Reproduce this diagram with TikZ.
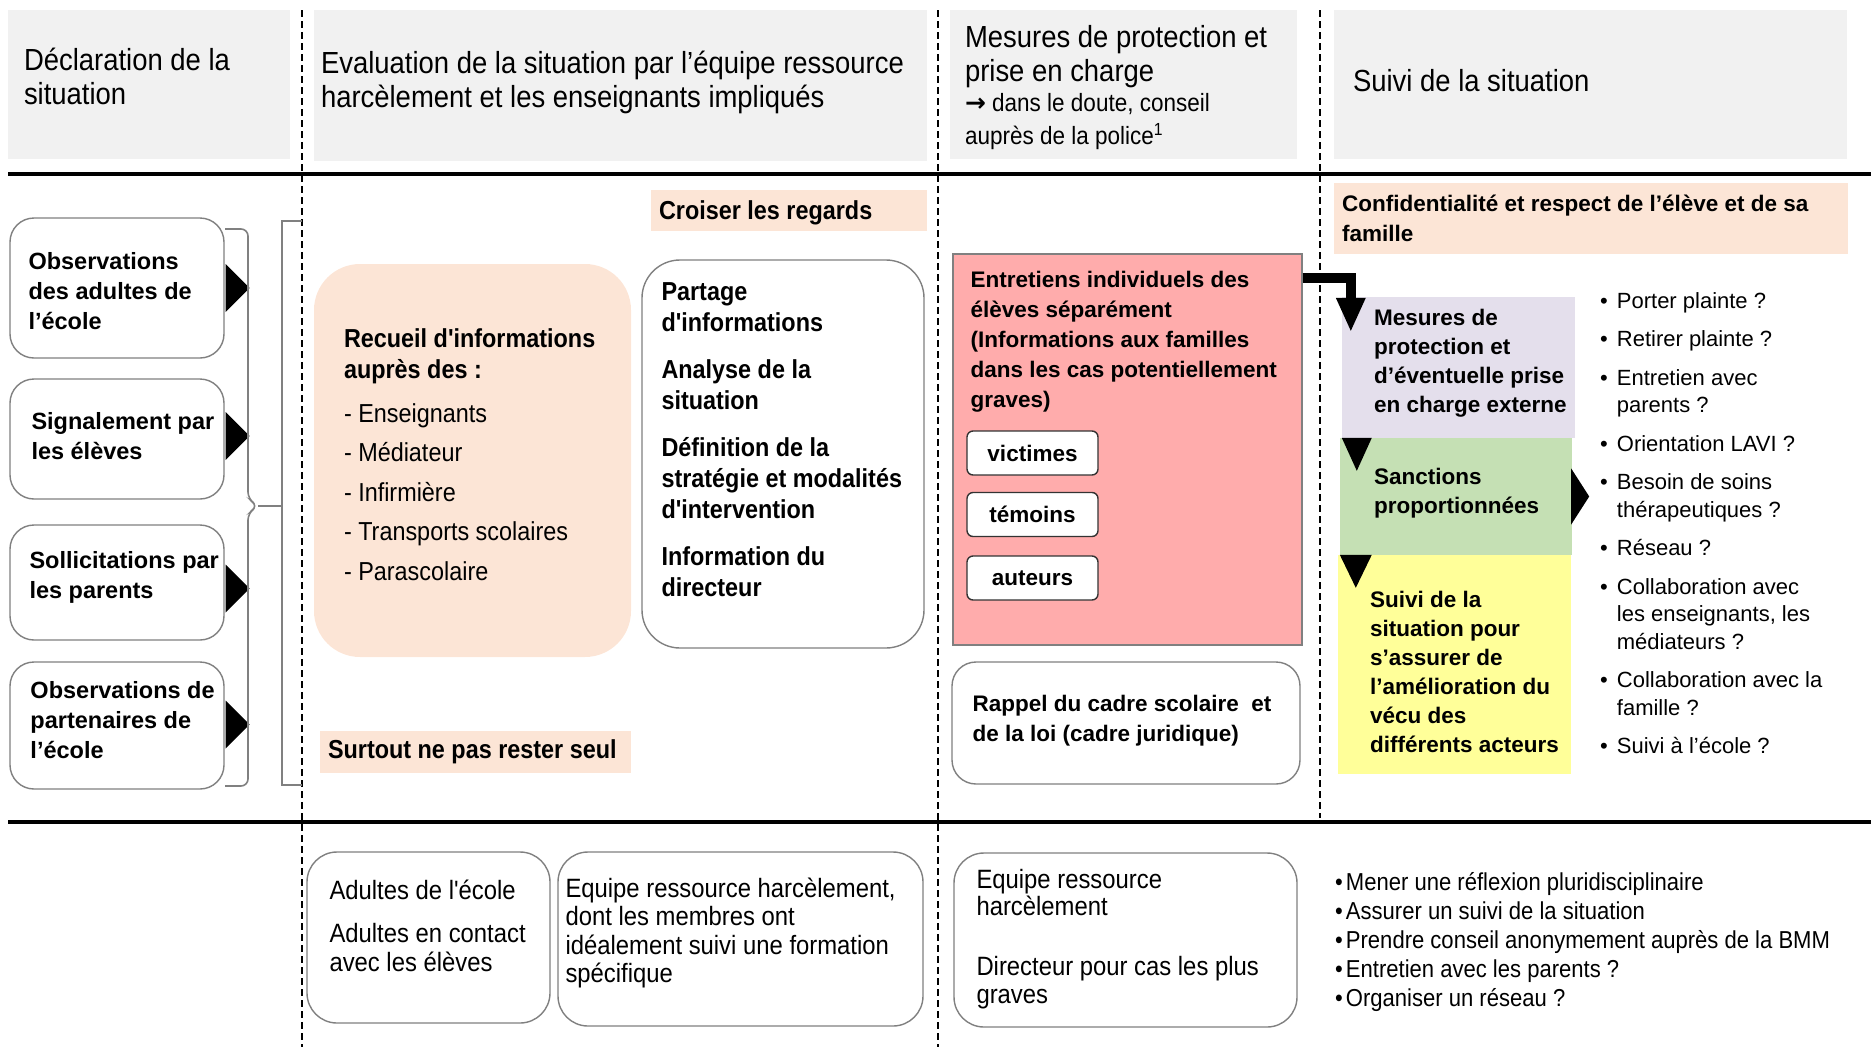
\documentclass[tikz,border=0pt]{standalone}
\usepackage{fontspec}
\setmainfont{Liberation Sans}
\newfontfamily\narrowfont{Liberation Sans}[FakeStretch=0.9]
\newfontfamily\arrowfont{DejaVu Sans}
\usetikzlibrary{arrows.meta}

\definecolor{headgray}{RGB}{241,241,241}
\definecolor{peach}{RGB}{252,229,214}
\definecolor{rose}{RGB}{255,172,172}
\definecolor{lavender}{RGB}{228,223,236}
\definecolor{sagegreen}{RGB}{197,224,180}
\definecolor{paleyellow}{RGB}{255,255,153}
\definecolor{edgegray}{RGB}{128,128,128}

\newcommand\hdfont{\narrowfont\fontsize{30.5}{34.5}\selectfont}
\newcommand\hdsmall{\narrowfont\fontsize{25}{32}\selectfont}
\newcommand\nbfont{\narrowfont\bfseries\fontsize{26}{31}\selectfont}
\newcommand\nrfont{\narrowfont\fontsize{26}{31}\selectfont}
\newcommand\wbfont{\bfseries\fontsize{22.5}{30}\selectfont}
\newcommand\wbtight{\bfseries\fontsize{22.5}{29}\selectfont}
\newcommand\lbfont{\bfseries\fontsize{23.5}{30}\selectfont}
\newcommand\qfont{\fontsize{22}{27.5}\selectfont}
\newcommand\btfont{\narrowfont\fontsize{26.5}{28.5}\selectfont}
\newcommand\btlist{\narrowfont\fontsize{24.5}{29}\selectfont}

\tikzset{
  hdband/.style={fill=headgray, inner sep=0},
  tintbox/.style={fill=#1, inner sep=0},
  cardbox/.style={draw=edgegray, line width=1.4pt, fill=white, inner sep=0, rounded corners=#1},
  cardbox/.default=24pt,
  chipbox/.style={draw=black!80, line width=1.4pt, fill=white, rounded corners=6pt, inner sep=0,
    minimum width=131pt, minimum height=44pt, font=\wbfont},
  txtnode/.style={inner sep=0, anchor=west, align=left},
  coldash/.style={dash pattern=on 7pt off 4pt, line width=1.5pt},
  hrule/.style={line width=4.5pt},
  bracelines/.style={draw=edgegray, line width=1.6pt}
}

\begin{document}
\begin{tikzpicture}[x=1pt, y=-1pt]
  \useasboundingbox (0,0) rectangle (1871,1047);

  \node[hdband, minimum width=282pt, minimum height=149pt] (hA) at (149,84.5) {};
  \node[hdband, minimum width=613pt, minimum height=151pt] (hB) at (620.5,85.5) {};
  \node[hdband, minimum width=347pt, minimum height=149pt] (hC) at (1123.5,84.5) {};
  \node[hdband, minimum width=513pt, minimum height=149pt] (hD) at (1590.5,84.5) {};

  \node[txtnode, font=\hdfont] (tA) at ([shift={(16,-8)}]hA.west) {Déclaration de la\\situation};
  \node[txtnode, font=\hdfont] (tB) at ([shift={(7,-3)}]hB.west)
    {Evaluation de la situation par l’équipe ressource\\harcèlement et les enseignants impliqués};
  \node[txtnode, font=\hdfont] (tC) at ([shift={(15,3)}]hC.west)
    {Mesures de protection et\\[-1pt]prise en charge\\[-4pt]{\hdsmall{\arrowfont\bfseries →} dans le doute, conseil}\\[-2pt]{\hdsmall auprès de la police\textsuperscript{1}}};
  \node[txtnode, font=\hdfont] (tD) at ([shift={(19,-4)}]hD.west) {Suivi de la situation};

  \draw[hrule] (8,174) -- (1871,174);
  \draw[hrule] (8,822) -- (1871,822);
  \draw[coldash] (302,10) -- (302,1047);
  \draw[coldash] (938,10) -- (938,1047);
  \draw[coldash] (1320,10) -- (1320,818);

  \node[cardbox, minimum width=214pt, minimum height=140pt] (obsAdult) at (117,288) {};
  \node[cardbox, minimum width=214pt, minimum height=120pt] (signal) at (117,439) {};
  \node[cardbox, minimum width=214pt, minimum height=115pt] (sollic) at (117,582.5) {};
  \node[cardbox, minimum width=214pt, minimum height=127pt] (obsPart) at (117,725.5) {};
  \node[txtnode, font=\lbfont] (tObsAdult) at ([shift={(19,3)}]obsAdult.west) {Observations\\des adultes de\\l'école};
  \node[txtnode, font=\lbfont] (tSignal) at ([shift={(22,-3)}]signal.west) {Signalement par\\les élèves};
  \node[txtnode, font=\lbfont] (tSollic) at ([shift={(20,-5)}]sollic.west) {Sollicitations par\\les parents};
  \node[txtnode, font=\lbfont] (tObsPart) at ([shift={(21,-5)}]obsPart.west) {Observations de\\partenaires de\\l'école};

  \fill (obsAdult.east) ++(1,-24) -- ++(24,24) -- ++(-24,24) -- cycle;
  \fill (signal.east) ++(1,-27) -- ++(24,24) -- ++(-24,24) -- cycle;
  \fill (sollic.east) ++(1,-18) -- ++(24,24) -- ++(-24,24) -- cycle;
  \fill (obsPart.east) ++(1,-25) -- ++(24,24) -- ++(-24,24) -- cycle;
  \draw[bracelines, rounded corners=7pt] (225,229) -- (248,229) -- (248,499) -- (258,506) -- (248,513) -- (248,786) -- (225,786);
  \draw[bracelines] (258,506) -- (282,506);
  \draw[bracelines] (302,221) -- (282,221) -- (282,785) -- (302,785);

  \node[tintbox=peach, minimum width=276pt, minimum height=41pt] (croiser) at (789,210.5) {};
  \node[txtnode, font=\nbfont] (tCroiser) at ([shift={(8,2)}]croiser.west) {Croiser les regards};
  \node[tintbox=peach, rounded corners=46pt, minimum width=317pt, minimum height=393pt] (recueil) at (472.5,460.5) {};
  \node[txtnode, font=\nrfont] (tRecueil) at ([shift={(30,-6)}]recueil.west)
    {{\bfseries Recueil d'informations}\\{\bfseries auprès des :}\\[13pt]- Enseignants\\[8.5pt]- Médiateur\\[8.5pt]- Infirmière\\[8.5pt]- Transports scolaires\\[8.5pt]- Parascolaire};
  \node[cardbox=38pt, minimum width=282pt, minimum height=388pt] (partage) at (783,454) {};
  \node[txtnode, font=\nbfont] (tPartage) at ([shift={(20,-14)}]partage.west)
    {Partage\\d'informations\\[16pt]Analyse de la\\situation\\[16pt]Définition de la\\stratégie et modalités\\d'intervention\\[16pt]Information du\\directeur};
  \node[tintbox=peach, minimum width=311pt, minimum height=42pt] (surtout) at (475.5,752) {};
  \node[txtnode, font=\nbfont] (tSurtout) at ([xshift=8pt]surtout.west) {Surtout ne pas rester seul};

  \node[tintbox=rose, draw=edgegray, line width=1.2pt, minimum width=349pt, minimum height=391pt] (entretiens) at (1127.5,449.5) {};
  \node[txtnode, anchor=north west, font=\wbfont] (tEntretiens) at ([shift={(18,18)}]entretiens.north west)
    {Entretiens individuels des\\élèves séparément\\(Informations aux familles\\dans les cas potentiellement\\graves)};
  \node[chipbox] (victimes) at (1032.5,453) {victimes};
  \node[chipbox] (temoins) at (1032.5,514.5) {témoins};
  \node[chipbox] (auteurs) at (1032.5,578) {auteurs};
  \node[cardbox, minimum width=348pt, minimum height=122pt] (rappel) at (1126,723) {};
  \node[txtnode, font=\wbfont] (tRappel) at ([shift={(21,-2)}]rappel.west) {Rappel du cadre scolaire\ \ et\\de la loi (cadre juridique)};

  \node[tintbox=peach, minimum width=514pt, minimum height=71pt] (confid) at (1591,218.5) {};
  \node[txtnode, font=\wbfont] (tConfid) at ([xshift=8pt]confid.west) {Confidentialité et respect de l’élève et de sa\\famille};
  \node[tintbox=lavender, minimum width=233pt, minimum height=141pt] (mesures) at (1458.5,367.5) {};
  \node[tintbox=sagegreen, minimum width=232pt, minimum height=117pt] (sanctions) at (1456,496.5) {};
  \node[tintbox=paleyellow, minimum width=233pt, minimum height=219pt] (suivi) at (1454.5,664.5) {};
  \node[txtnode, font=\wbtight] (tMesures) at ([shift={(32,-4)}]mesures.west) {Mesures de\\protection et\\d’éventuelle prise\\en charge externe};
  \node[txtnode, font=\wbtight] (tSanctions) at ([shift={(34,-3)}]sanctions.west) {Sanctions\\proportionnées};
  \node[txtnode, font=\wbtight] (tSuivi) at ([shift={(32,7)}]suivi.west)
    {Suivi de la\\situation pour\\s’assurer de\\l’amélioration du\\vécu des\\différents acteurs};
  \draw[line width=10pt, -{Triangle[width=30pt, length=33pt, line width=0pt]}]
    ([yshift=-25pt]entretiens.north east) -| ([shift={(9,34)}]mesures.north west);
  \fill ([xshift=2pt]sanctions.north west) -- ++(30,0) -- ++(-15,33) -- cycle;
  \fill ([xshift=2pt]suivi.north west) -- ++(32,0) -- ++(-16,33) -- cycle;
  \fill ([xshift=-1pt]sanctions.east) ++(0,-28) -- ++(18,28) -- ++(-18,28) -- cycle;
  \node[inner sep=0, anchor=north west, font=\qfont] (questions) at (1600,289)
    {\begin{tabular}{@{}l@{\hspace{9pt}}l@{}}
      \textbullet & Porter plainte~?\\[11pt]
      \textbullet & Retirer plainte~?\\[11pt]
      \textbullet & Entretien avec\\ & parents~?\\[11pt]
      \textbullet & Orientation LAVI~?\\[11pt]
      \textbullet & Besoin de soins\\ & thérapeutiques~?\\[11pt]
      \textbullet & Réseau~?\\[11pt]
      \textbullet & Collaboration avec\\ & les enseignants, les\\ & médiateurs~?\\[11pt]
      \textbullet & Collaboration avec la\\ & famille~?\\[11pt]
      \textbullet & Suivi à l’école~?
    \end{tabular}};

  \node[cardbox=30pt, minimum width=243pt, minimum height=171pt] (adultes) at (428.5,937.5) {};
  \node[txtnode, font=\btfont] (tAdultes) at ([shift={(23,-12)}]adultes.west) {Adultes de l'école\\[15pt]Adultes en contact\\avec les élèves};
  \node[cardbox=30pt, minimum width=365pt, minimum height=174pt] (equipe) at (740.5,939) {};
  \node[txtnode, font=\btfont] (tEquipe) at ([shift={(8,-6)}]equipe.west)
    {Equipe ressource harcèlement,\\dont les membres ont\\idéalement suivi une formation\\spécifique};
  \node[cardbox=30pt, minimum width=343pt, minimum height=174pt] (equipeDir) at (1125.5,940) {};
  \node[txtnode, font=\btfont] (tEquipeDir) at ([shift={(23,-1)}]equipeDir.west)
    {Equipe ressource\\[-1pt]harcèlement\\[31pt]Directeur pour cas les plus\\graves};
  \node[txtnode, anchor=north west, font=\btlist] (pistes) at (1335,872)
    {\textbullet\hspace{3pt}Mener une réflexion pluridisciplinaire\\
     \textbullet\hspace{3pt}Assurer un suivi de la situation\\
     \textbullet\hspace{3pt}Prendre conseil anonymement auprès de la BMM\\
     \textbullet\hspace{3pt}Entretien avec les parents~?\\
     \textbullet\hspace{3pt}Organiser un réseau~?};
\end{tikzpicture}
\end{document}
